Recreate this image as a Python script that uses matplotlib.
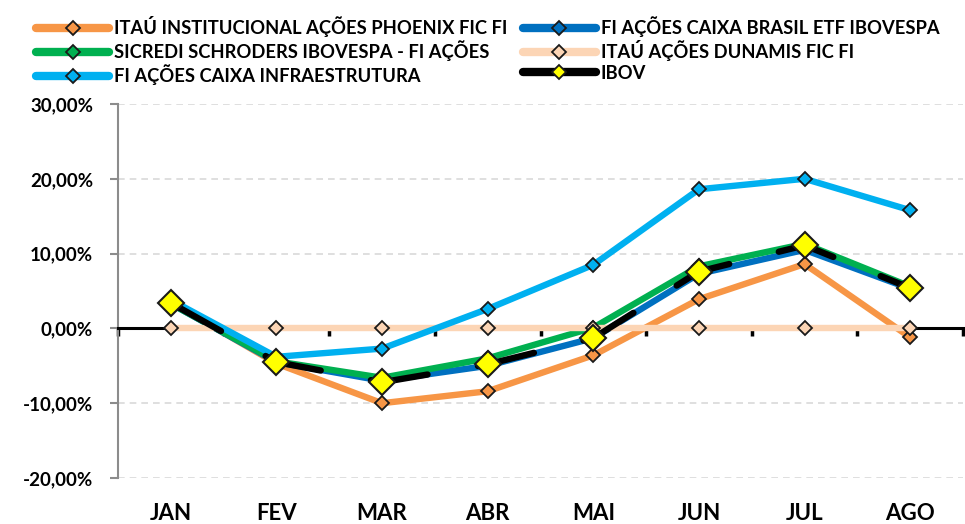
import matplotlib
matplotlib.use("Agg")
import matplotlib.pyplot as plt
from matplotlib.lines import Line2D
from matplotlib.transforms import blended_transform_factory

plt.rcParams['font.family'] = ['Lato', 'DejaVu Sans']
plt.rcParams['font.weight'] = 'bold'

meses = ["JAN", "FEV", "MAR", "ABR", "MAI", "JUN", "JUL", "AGO"]

itau_phoenix = [3.5, -4.7, -10.0, -8.4, -3.6, 3.9, 8.6, -1.2]
caixa_ibovespa = [3.3, -4.5, -7.0, -5.0, -1.3, 7.3, 10.5, 5.3]
sicredi = [3.3, -4.4, -6.6, -4.0, 0.1, 8.3, 11.3, 5.6]
itau_dunamis = [0.0, 0.0, 0.0, 0.0, 0.0, 0.0, 0.0, 0.0]
caixa_infra = [3.8, -3.8, -2.7, 2.6, 8.5, 18.6, 20.0, 15.8]
ibov = [3.4, -4.5, -7.2, -4.8, -1.3, 7.6, 11.1, 5.4]

series = [
    ("ITAÚ INSTITUCIONAL AÇÕES PHOENIX FIC FI", itau_phoenix, "#F79646"),
    ("FI AÇÕES CAIXA BRASIL ETF IBOVESPA", caixa_ibovespa, "#0070C0"),
    ("SICREDI SCHRODERS IBOVESPA - FI AÇÕES", sicredi, "#00B050"),
    ("ITAÚ AÇÕES DUNAMIS FIC FI", itau_dunamis, "#FCD5B5"),
    ("FI AÇÕES CAIXA INFRAESTRUTURA", caixa_infra, "#00B0F0"),
]

fig = plt.figure(figsize=(9.65, 5.24), dpi=100)
ax = fig.add_axes([118 / 965, 1 - 478 / 524, (963 - 118) / 965, (478 - 104) / 524])

x = list(range(len(meses)))
handles = []
for i, (nome, vals, cor) in enumerate(series):
    ax.plot(x, vals, color=cor, lw=4.6, marker="D", ms=7.5, mfc=cor,
            mec="#1a1a1a", mew=1.3, solid_capstyle="butt", zorder=3 + i,
            clip_on=False)
    handles.append(Line2D([], [], color=cor, lw=6, marker="D", ms=7,
                          mfc=cor, mec="#1a1a1a", mew=1.3,
                          solid_capstyle="round"))

ax.plot(x, ibov, color="black", lw=4.6, dashes=(9, 4, 0, 4),
        dash_capstyle="round", marker="D", ms=13, mfc="#FFFF00",
        mec="#1a1a1a", mew=1.5, zorder=10, clip_on=False)
handles.append(Line2D([], [], color="black", lw=6, marker="D", ms=7,
                      mfc="#FFFF00", mec="#1a1a1a", mew=1.3,
                      solid_capstyle="round"))
labels = [s[0] for s in series] + ["IBOV"]

# eixos
ax.set_xlim(-0.5, 7.5)
ax.set_ylim(-20, 30)
ax.set_yticks([-20, -10, 0, 10, 20, 30])
ax.set_yticklabels(["-20,00%", "-10,00%", "0,00%", "10,00%", "20,00%", "30,00%"],
                   fontsize=13.5, fontweight="bold")
ax.yaxis.grid(True, color="#D9D9D9", lw=1.2, ls=(0, (4, 3)))
ax.set_axisbelow(True)
for s in ["top", "right"]:
    ax.spines[s].set_visible(False)
ax.spines["left"].set_color("#8C8C8C")
ax.spines["left"].set_linewidth(1.5)
ax.spines["bottom"].set_position(("data", 0))
ax.spines["bottom"].set_color("black")
ax.spines["bottom"].set_linewidth(2.2)
ax.spines["bottom"].set_zorder(2.5)
ax.tick_params(axis="y", length=6, width=1.5, color="#8C8C8C", pad=12)
ax.set_xticks([i - 0.5 for i in range(len(meses) + 1)])
ax.set_xticklabels([])
ax.tick_params(axis="x", length=6, width=2.5, color="black", direction="out")

trans = blended_transform_factory(ax.transData, ax.transAxes)
for i, m in enumerate(meses):
    ax.text(i, -0.094, m, transform=trans, ha="center", va="center",
            fontsize=16, fontweight="bold")

order = [0, 2, 4, 1, 3, 5]
fig.legend([handles[i] for i in order], [labels[i] for i in order],
           loc="upper left", bbox_to_anchor=(36 / 965, 0.9695), ncol=2,
           frameon=False, handlelength=4.0, borderpad=0, borderaxespad=0,
           handletextpad=0.28, columnspacing=0.8, labelspacing=0.18,
           prop={"weight": "bold", "size": 13.2})

fig.savefig("out.png", dpi=100)
